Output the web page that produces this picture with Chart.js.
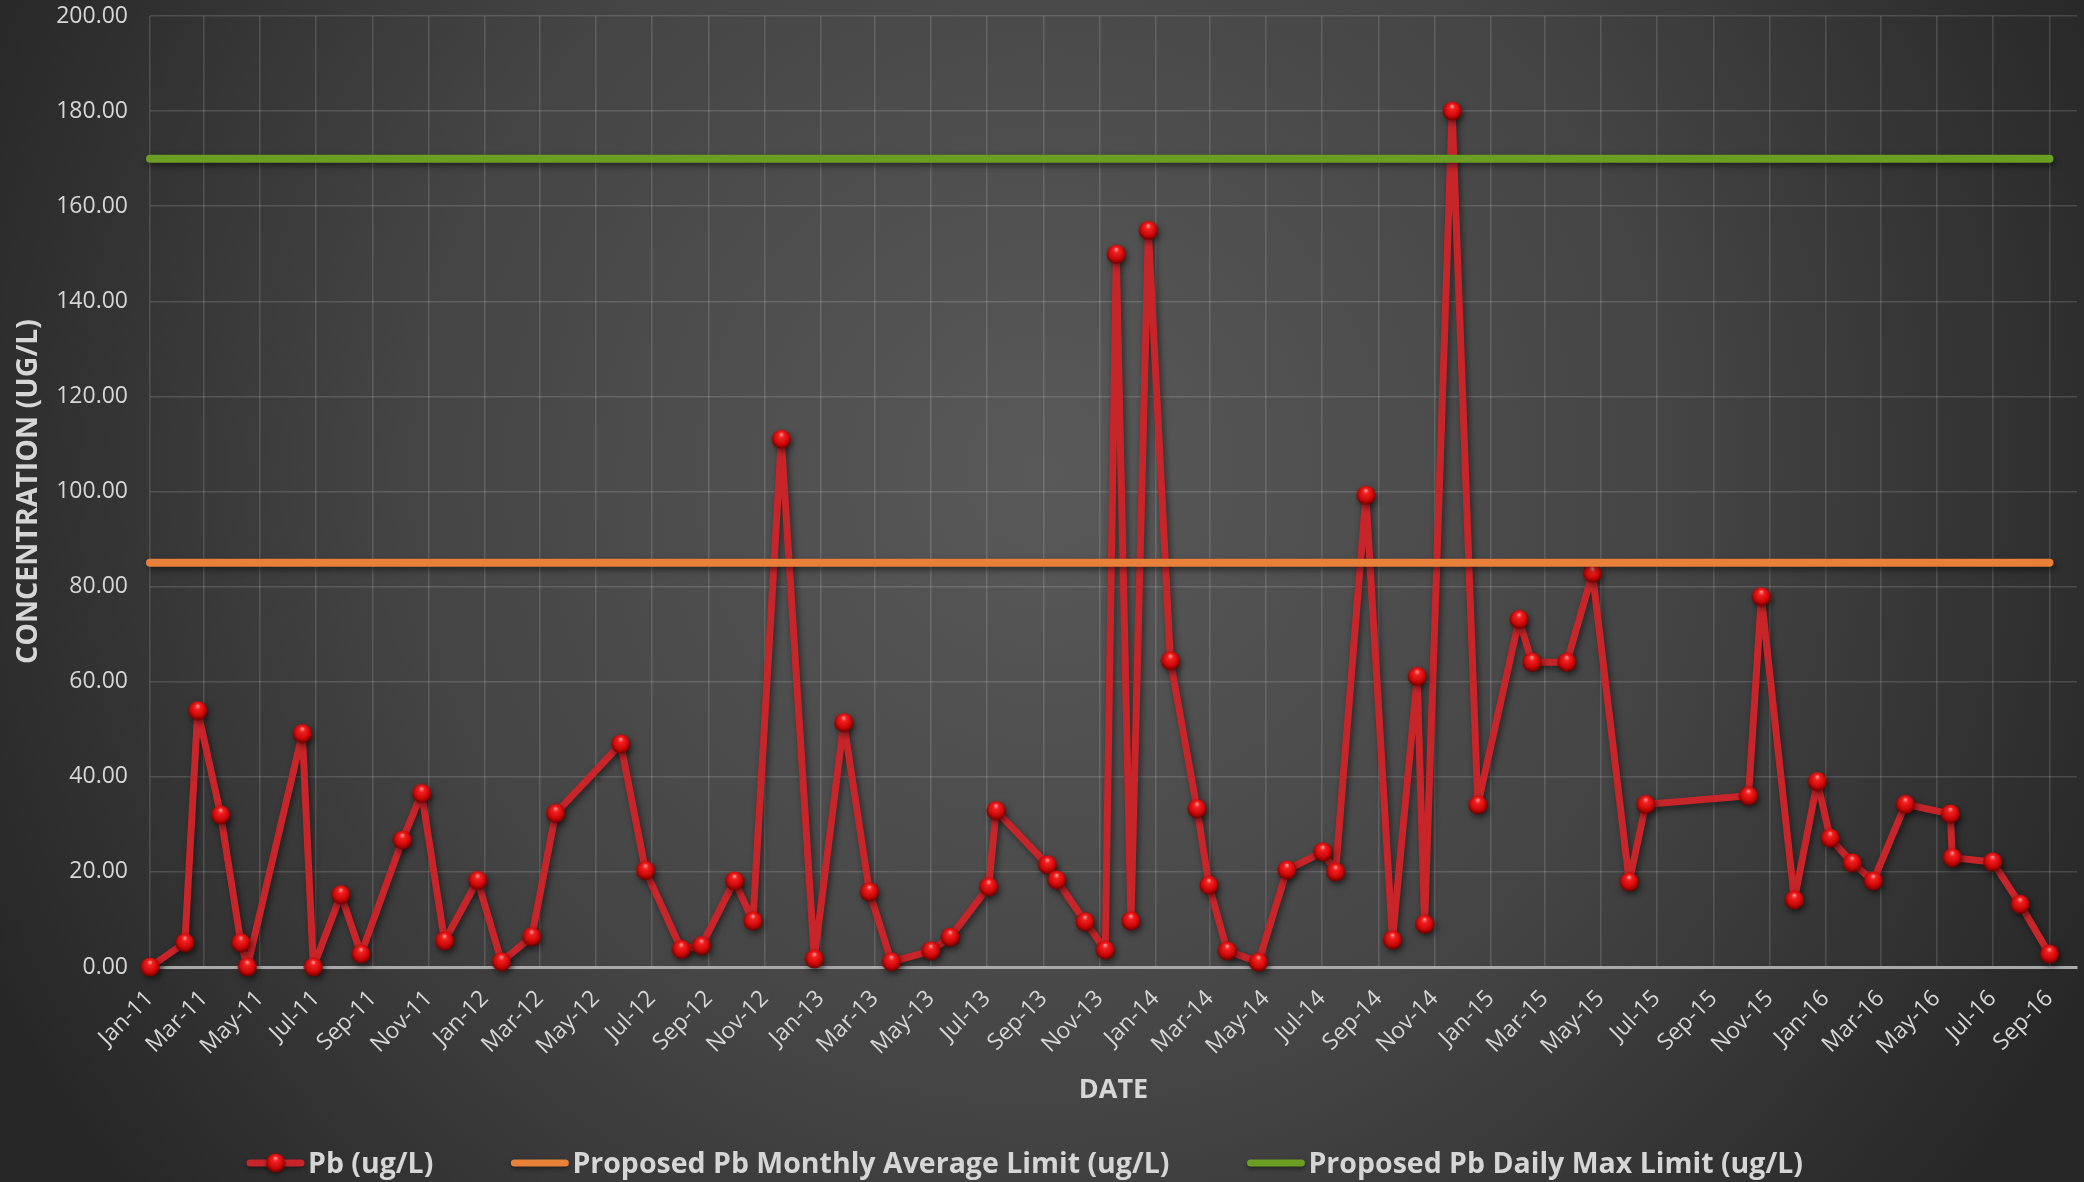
<!DOCTYPE html>
<html><head><meta charset="utf-8">
<script src="https://cdn.jsdelivr.net/npm/chart.js@4.4.1/dist/chart.umd.min.js"></script>
<style>
html,body{margin:0;padding:0;background:#2a2a2a;}
#wrap{width:2084px;height:1182px;position:relative;overflow:hidden;}
canvas{display:block;}
</style>
</head><body><div id="wrap"><canvas id="c" width="2084" height="1182"></canvas></div>
<script>
// ---- data ----
const sampleDates = [
 '2011-01-01','2011-02-08','2011-02-22','2011-03-19','2011-04-10','2011-04-17','2011-06-16','2011-06-28','2011-07-28','2011-08-19','2011-10-03','2011-10-24','2011-11-18','2011-12-24',
 '2012-01-19','2012-02-21','2012-03-18','2012-05-28','2012-06-24','2012-08-02','2012-08-24','2012-09-29','2012-10-19','2012-11-19','2012-12-25',
 '2013-01-26','2013-02-23','2013-03-19','2013-05-01','2013-05-22','2013-07-03','2013-07-11','2013-09-05','2013-09-15','2013-10-16','2013-11-07','2013-11-19','2013-12-05','2013-12-24',
 '2014-01-17','2014-02-15','2014-02-28','2014-03-20','2014-04-23','2014-05-24','2014-07-02','2014-07-16','2014-08-18','2014-09-16','2014-10-13','2014-10-21','2014-11-20','2014-12-18',
 '2015-02-01','2015-02-15','2015-03-25','2015-04-22','2015-06-01','2015-06-19','2015-10-09','2015-10-23','2015-11-28','2015-12-23',
 '2016-01-06','2016-01-30','2016-02-22','2016-03-28','2016-05-16','2016-05-18','2016-07-01','2016-07-31','2016-09-01'
];
const pbValues = [
 0,5.1,53.9,32.0,5.1,0,49.1,0,15.2,2.7,26.7,36.5,5.5,18.2,
 1.1,6.4,32.3,46.9,20.3,3.7,4.5,18.1,9.7,111.0,1.7,
 51.4,15.8,1.1,3.4,6.3,16.9,32.9,21.5,18.3,9.5,3.6,149.9,9.7,154.9,
 64.4,33.3,17.2,3.4,1.0,20.4,24.2,20.0,99.2,5.7,61.1,9.0,180.0,34.1,
 73.1,64.1,64.1,82.8,17.9,34.2,36.0,77.9,14.1,39.0,
 27.1,21.9,18.1,34.2,32.2,23.0,22.1,13.2,2.7
];
const limitDates = ['2011-01-01','2016-09-01'];
const monthlyAvgLimit = [85, 85];
const dailyMaxLimit = [170, 170];
const xTickLabels = [
 'Jan-11','Mar-11','May-11','Jul-11','Sep-11','Nov-11',
 'Jan-12','Mar-12','May-12','Jul-12','Sep-12','Nov-12',
 'Jan-13','Mar-13','May-13','Jul-13','Sep-13','Nov-13',
 'Jan-14','Mar-14','May-14','Jul-14','Sep-14','Nov-14',
 'Jan-15','Mar-15','May-15','Jul-15','Sep-15','Nov-15',
 'Jan-16','Mar-16','May-16','Jul-16','Sep-16'
];
const yTicks = [0,20,40,60,80,100,120,140,160,180,200];
const axisStart = '2011-01-01';
const axisEnd = '2016-10-01';
const seriesLabels = ['Pb (ug/L)','Proposed Pb Monthly Average Limit (ug/L)','Proposed Pb Daily Max Limit (ug/L)'];

// ---- helpers ----
const MONTHS = ['Jan','Feb','Mar','Apr','May','Jun','Jul','Aug','Sep','Oct','Nov','Dec'];
const BASE = (()=>{const [y,m,d]=axisStart.split('-').map(Number);return Date.UTC(y,m-1,d);})();
function dayNum(s){const [y,m,d]=s.split('-').map(Number);return (Date.UTC(y,m-1,d)-BASE)/86400000;}
function labelDay(l){const [mn,yy]=l.split('-');return (Date.UTC(2000+Number(yy),MONTHS.indexOf(mn),1)-BASE)/86400000;}
const tickDays = xTickLabels.map(labelDay);
const tickLabelByDay = {}; tickDays.forEach((d,i)=>tickLabelByDay[d]=xTickLabels[i]);

function makeSphere(d){
  const c=document.createElement('canvas'); c.width=d; c.height=d;
  const g=c.getContext('2d'); const r=d/2;
  const grad=g.createRadialGradient(r, r*0.5, 0.5, r, r*0.9, r);
  grad.addColorStop(0,'#ff9a9a');
  grad.addColorStop(0.22,'#f52222');
  grad.addColorStop(0.7,'#d00808');
  grad.addColorStop(1,'#780000');
  g.fillStyle=grad; g.beginPath(); g.arc(r,r,r-0.5,0,Math.PI*2); g.fill();
  return c;
}
const sphere = makeSphere(20);
const legendSphere = makeSphere(20);

const TXT = '#d6d6d6';
const GRID = 'rgba(255,255,255,0.14)';

const bgPlugin = {
  id:'bg',
  beforeDraw(chart){
    const {ctx,width,height}=chart;
    ctx.save();
    const g=ctx.createRadialGradient(width*0.5, height*0.4, 0, width*0.5, height*0.4, width*0.56);
    g.addColorStop(0,'#595959');
    g.addColorStop(0.55,'#444444');
    g.addColorStop(1,'#272727');
    ctx.fillStyle=g; ctx.fillRect(0,0,width,height);
    ctx.restore();
  }
};
const shadowPlugin = {
  id:'shadow',
  beforeDatasetDraw(chart){
    const ctx=chart.ctx; ctx.save();
    ctx.shadowColor='rgba(0,0,0,0.5)'; ctx.shadowBlur=6; ctx.shadowOffsetX=2; ctx.shadowOffsetY=3;
  },
  afterDatasetDraw(chart){ chart.ctx.restore(); }
};
const legendPlugin = {
  id:'customLegend',
  afterDraw(chart){
    const ctx=chart.ctx;
    const ds=chart.data.datasets;
    const font='bold 28.5px "Open Sans", "Liberation Sans", sans-serif';
    ctx.save();
    ctx.font=font;
    const lineLen=57, gapText=4, gapItem=78;
    const widths=ds.map(d=>ctx.measureText(d.label).width);
    const total=widths.reduce((a,w)=>a+lineLen+gapText+w,0)+gapItem*(ds.length-1);
    let x=chart.width/2-17-total/2;
    const yLine=chart.height-19, yText=chart.height-9;
    ds.forEach((d,i)=>{
      ctx.save();
      ctx.shadowColor='rgba(0,0,0,0.45)'; ctx.shadowBlur=4; ctx.shadowOffsetY=2;
      ctx.strokeStyle=d.borderColor; ctx.lineWidth=7; ctx.lineCap='round';
      ctx.beginPath(); ctx.moveTo(x+3,yLine); ctx.lineTo(x+lineLen-3,yLine); ctx.stroke();
      if(d.pointRadius>0){ ctx.drawImage(legendSphere, x+lineLen/2-10, yLine-10); }
      ctx.restore();
      ctx.save();
      ctx.fillStyle=TXT; ctx.textBaseline='alphabetic'; ctx.textAlign='left';
      ctx.fillText(d.label, x+lineLen+gapText, yText);
      ctx.restore();
      x+=lineLen+gapText+widths[i]+gapItem;
    });
    ctx.restore();
  }
};

const xs = sampleDates.map(dayNum);
const chart = new Chart(document.getElementById('c'), {
  type:'line',
  data:{
    datasets:[
      {label:seriesLabels[0], data:xs.map((x,i)=>({x:x,y:pbValues[i]})), borderColor:'#c8252a', backgroundColor:'#c8252a',
       borderWidth:7, pointStyle:sphere, pointRadius:10, pointHoverRadius:10, order:2, clip:false, tension:0, borderJoinStyle:'round'},
      {label:seriesLabels[1], data:limitDates.map((d,i)=>({x:dayNum(d),y:monthlyAvgLimit[i]})), borderColor:'#e8803a',
       borderWidth:8, pointRadius:0, pointHoverRadius:0, order:1, borderCapStyle:'round', clip:false},
      {label:seriesLabels[2], data:limitDates.map((d,i)=>({x:dayNum(d),y:dailyMaxLimit[i]})), borderColor:'#6a9f23',
       borderWidth:8, pointRadius:0, pointHoverRadius:0, order:0, borderCapStyle:'round', clip:false}
    ]
  },
  options:{
    responsive:false, animation:false, devicePixelRatio:1,
    layout:{autoPadding:false, padding:{left:0,right:7,top:0,bottom:72}},
    plugins:{legend:{display:false}, tooltip:{enabled:false}},
    scales:{
      x:{
        type:'linear', min:dayNum(axisStart), max:dayNum(axisEnd),
        afterBuildTicks(scale){ scale.ticks = tickDays.map(v=>({value:v})); },
        afterFit(scale){ scale.height = 143; scale.paddingLeft = 0; scale.paddingRight = 0; },
        ticks:{ autoSkip:false, minRotation:45, maxRotation:45, padding:18, color:TXT,
          font:{family:'"Open Sans", sans-serif', size:23},
          callback:(v)=>tickLabelByDay[v] },
        grid:{ color:GRID, lineWidth:1.5, drawTicks:false },
        border:{ color:'#a9a9a9', width:3 },
        title:{ display:true, text:'DATE', color:TXT, font:{family:'"Open Sans", sans-serif', size:27, weight:'bold'}, padding:{top:0,bottom:3} }
      },
      y:{
        min:0, max:200,
        afterBuildTicks(scale){ scale.ticks = yTicks.map(v=>({value:v})); },
        afterFit(scale){ scale.width = 150; scale.paddingTop = 16; scale.paddingBottom = 0; },
        ticks:{ padding:22, color:TXT, font:{family:'"Open Sans", sans-serif', size:23},
          callback:(v)=>Number(v).toFixed(2) },
        grid:{ color:GRID, lineWidth:1.5, drawTicks:false },
        border:{ display:false },
        title:{ display:true, text:'CONCENTRATION (UG/L)', color:TXT, font:{family:'"Open Sans", sans-serif', size:28.5, weight:'bold'}, padding:{top:12,bottom:0} }
      }
    }
  },
  plugins:[bgPlugin, shadowPlugin, legendPlugin]
});
</script>
</body></html>
